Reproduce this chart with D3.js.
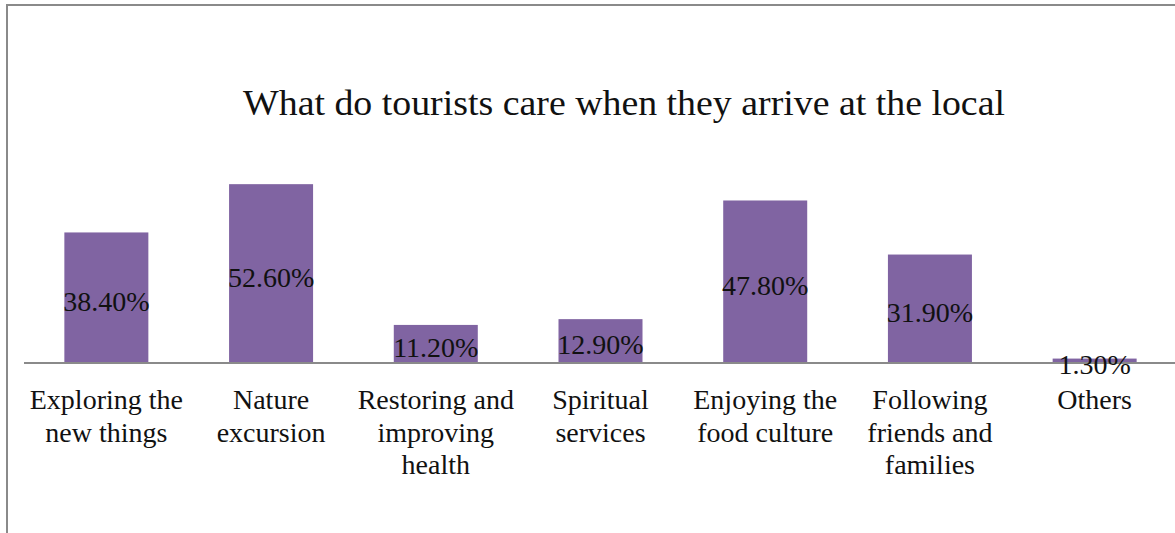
<!DOCTYPE html>
<html>
<head>
<meta charset="utf-8">
<script src="https://cdn.jsdelivr.net/npm/d3@7"></script>
<style>
  html, body { margin: 0; padding: 0; background: #fff; }
  svg { display: block; }
  text { font-family: "Liberation Serif", "DejaVu Serif", serif; fill: #111; }
</style>
</head>
<body>
<svg id="chart" width="1175" height="533"></svg>
<script>
// Survey categories (each label split into its displayed lines)
const categories = [
  ["Exploring the", "new things"],
  ["Nature", "excursion"],
  ["Restoring and", "improving", "health"],
  ["Spiritual", "services"],
  ["Enjoying the", "food culture"],
  ["Following", "friends and", "families"],
  ["Others"]
];
// Share of respondents, in percent
const values = [38.4, 52.6, 11.2, 12.9, 47.8, 31.9, 1.3];
const title = "What do tourists care when they arrive at the local";

const svg = d3.select("#chart");
const W = 1175, H = 533;

// Frame around the chart area
svg.append("path")
  .attr("d", `M7,${H} V5 H${W}`)
  .attr("fill", "none")
  .attr("stroke", "#8a8a8a")
  .attr("stroke-width", 2);

const ids = categories.map((_, i) => i);
const x = d3.scaleBand().domain(ids).range([24, 1177]).paddingInner(0.49).paddingOuter(0.245);
const y = d3.scaleLinear().domain([0, 60]).range([363, 159]);

// Title (condensed to its set width)
svg.append("text")
  .attr("x", 624).attr("y", 115)
  .attr("text-anchor", "middle")
  .attr("font-size", 35)
  .attr("textLength", 762)
  .attr("lengthAdjust", "spacingAndGlyphs")
  .text(title);

// Bars
svg.append("g").selectAll("rect")
  .data(values)
  .join("rect")
  .attr("x", (d, i) => x(i))
  .attr("width", x.bandwidth())
  .attr("y", d => y(d))
  .attr("height", d => y(0) - y(d))
  .attr("fill", "#8064a2");

// Category axis line
svg.append("line")
  .attr("x1", 24).attr("x2", W)
  .attr("y1", y(0)).attr("y2", y(0))
  .attr("stroke", "#8a8a8a")
  .attr("stroke-width", 2);

// Value labels centred in each bar
svg.append("g").selectAll("text")
  .data(values)
  .join("text")
  .attr("x", (d, i) => x(i) + x.bandwidth() / 2)
  .attr("y", d => (y(d) + y(0)) / 2 + 13)
  .attr("text-anchor", "middle")
  .attr("font-size", 28)
  .text(d => d.toFixed(2) + "%");

// Category labels (multi-line)
const lab = svg.append("g").selectAll("text")
  .data(categories)
  .join("text")
  .attr("x", (d, i) => x(i) + x.bandwidth() / 2)
  .attr("y", 409)
  .attr("text-anchor", "middle")
  .attr("font-size", 28);
lab.selectAll("tspan")
  .data(d => d)
  .join("tspan")
  .attr("x", function() { return this.parentNode.getAttribute("x"); })
  .attr("dy", (d, j) => j === 0 ? 0 : 32.5)
  .text(d => d);
</script>
</body>
</html>
